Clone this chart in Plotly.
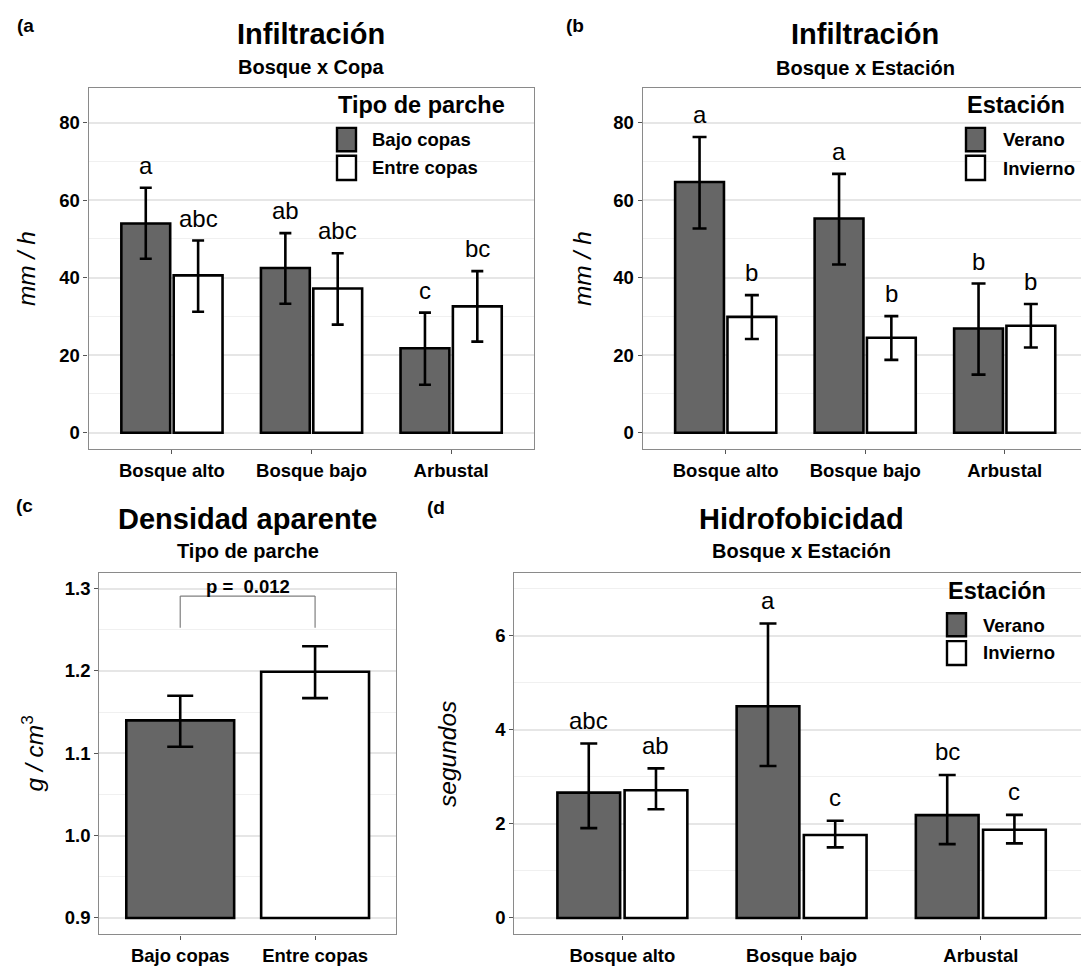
import plotly.graph_objects as go

W, H = 1081, 966
FONT = "Liberation Sans, Arial, sans-serif"
DARK = "#666666"

# ---------------- data ----------------
sites = ["Bosque alto", "Bosque bajo", "Arbustal"]

# (a) Infiltración, Bosque x Copa
a_bajo_mean = [54.0, 42.5, 21.8]
a_bajo_hi = [63.2, 51.5, 31.0]
a_bajo_lo = [44.9, 33.3, 12.4]
a_entre_mean = [40.6, 37.2, 32.6]
a_entre_hi = [49.6, 46.3, 41.7]
a_entre_lo = [31.2, 27.9, 23.5]
a_bajo_letters = ["a", "ab", "c"]
a_entre_letters = ["abc", "abc", "bc"]

# (b) Infiltración, Bosque x Estación
b_ver_mean = [64.7, 55.3, 26.9]
b_ver_hi = [76.3, 66.8, 38.5]
b_ver_lo = [52.7, 43.4, 15.0]
b_inv_mean = [29.9, 24.5, 27.6]
b_inv_hi = [35.5, 30.1, 33.2]
b_inv_lo = [24.2, 18.8, 22.0]
b_ver_letters = ["a", "a", "b"]
b_inv_letters = ["b", "b", "b"]

# (c) Densidad aparente, Tipo de parche
c_cats = ["Bajo copas", "Entre copas"]
c_mean = [1.140, 1.199]
c_hi = [1.170, 1.230]
c_lo = [1.108, 1.167]
c_base = 0.9
c_bracket_lo = 1.2525
c_bracket_hi = 1.291
c_pvalue = "p =\u00a0 0.012"

# (d) Hidrofobicidad, Bosque x Estación
d_ver_mean = [2.665, 4.50, 2.186]
d_ver_hi = [3.71, 6.26, 3.04]
d_ver_lo = [1.91, 3.23, 1.57]
d_inv_mean = [2.714, 1.763, 1.875]
d_inv_hi = [3.18, 2.066, 2.19]
d_inv_lo = [2.31, 1.50, 1.586]
d_ver_letters = ["abc", "a", "bc"]
d_inv_letters = ["ab", "c", "c"]


def X(px):
    return px / W


def Y(py):
    return 1 - py / H


fig = go.Figure()


def add_bar(x, mean, hi, lo, fill, xa, ya, cap, name, width=None, base=None):
    m = list(mean)
    if base is not None:
        y = [v - base for v in m]
    else:
        y = m
    fig.add_trace(go.Bar(
        x=x, y=y, base=base, name=name, width=width,
        xaxis=xa, yaxis=ya, showlegend=False,
        marker=dict(color=fill, line=dict(color="black", width=2.6)),
        error_y=dict(type="data", symmetric=False,
                     array=[h - v for h, v in zip(hi, m)],
                     arrayminus=[v - l for l, v in zip(lo, m)],
                     color="black", thickness=2.6, width=cap),
    ))


add_bar(sites, a_bajo_mean, a_bajo_hi, a_bajo_lo, DARK, "x", "y", 6, "Bajo copas")
add_bar(sites, a_entre_mean, a_entre_hi, a_entre_lo, "white", "x", "y", 6, "Entre copas")
add_bar(sites, b_ver_mean, b_ver_hi, b_ver_lo, DARK, "x2", "y2", 7, "Verano")
add_bar(sites, b_inv_mean, b_inv_hi, b_inv_lo, "white", "x2", "y2", 7, "Invierno")
add_bar(c_cats, c_mean, c_hi, c_lo, [DARK, "white"], "x3", "y3", 13, "Densidad",
        width=0.8, base=c_base)
add_bar(sites, d_ver_mean, d_ver_hi, d_ver_lo, DARK, "x4", "y4", 8.5, "Verano")
add_bar(sites, d_inv_mean, d_inv_hi, d_inv_lo, "white", "x4", "y4", 8.5, "Invierno")

annotations = []
shapes = []

LETTER_SIZE = 24


# significance letters
def letters(labels, hi, off, xr, yr, shift=8.0):
    for i, (t, h) in enumerate(zip(labels, hi)):
        annotations.append(dict(
            x=i + off, y=h, xref=xr, yref=yr, text=t, showarrow=False,
            xanchor="center", yanchor="bottom", yshift=shift, borderpad=0,
            font=dict(family=FONT, size=LETTER_SIZE, color="black")))


OFF = 0.1875
letters(a_bajo_letters, a_bajo_hi, -OFF, "x", "y")
letters(a_entre_letters, a_entre_hi, OFF, "x", "y")
letters(b_ver_letters, b_ver_hi, -OFF, "x2", "y2")
letters(b_inv_letters, b_inv_hi, OFF, "x2", "y2")
letters(d_ver_letters, d_ver_hi, -OFF, "x4", "y4", 8.5)
letters(d_inv_letters, d_inv_hi, OFF, "x4", "y4", 8.5)


def text_at(px, baseline, txt, size, anchor="center", bold=True, italic=False):
    annotations.append(dict(
        x=X(px), y=Y(baseline + 0.212 * size), xref="paper", yref="paper",
        text=txt, showarrow=False, xanchor=anchor, yanchor="bottom", borderpad=0,
        font=dict(family=FONT, size=size, color="black",
                  weight="bold" if bold else "normal",
                  style="italic" if italic else "normal")))


# titles / subtitles
text_at(311.4, 45, "Infiltración", 29)
text_at(311.4, 75, "Bosque x Copa", 20)
text_at(865.0, 45, "Infiltración", 29)
text_at(865.0, 76, "Bosque x Estación", 20)
text_at(247.7, 533, "Densidad aparente", 29)
text_at(247.7, 561.7, "Tipo de parche", 20)
text_at(801.5, 533, "Hidrofobicidad", 29)
text_at(801.5, 561.7, "Bosque x Estación", 20)

# panel tags
text_at(16, 33, "(a", 19, anchor="left")
text_at(565, 33, "(b", 19, anchor="left")
text_at(15, 516, "(c", 19, anchor="left")
text_at(426, 518, "(d", 19, anchor="left")


# y-axis titles (rotated)
def ytitle(px, py, txt):
    annotations.append(dict(
        x=X(px), y=Y(py), xref="paper", yref="paper", text=txt, showarrow=False,
        textangle=-90, xanchor="center", yanchor="middle",
        font=dict(family=FONT, size=24.5, color="black")))


ytitle(26.5, 270, "<i>mm / h</i>")
ytitle(582.5, 270, "<i>mm / h</i>")
ytitle(32.7, 757.7, "<i>g / cm</i><sup>3</sup>")
ytitle(448.2, 757.7, "<i>segundos</i>")


# legends (drawn manually to match key size)
def legend(title, items, x_key, title_base, key_tops, key_bots, text_x, text_bases):
    text_at(x_key, title_base, title, 23.5, anchor="left")
    for (lab, fill), kt, kb, tb in zip(items, key_tops, key_bots, text_bases):
        shapes.append(dict(type="rect", xref="paper", yref="paper",
                           x0=X(x_key), x1=X(x_key + 19), y0=Y(kb), y1=Y(kt),
                           fillcolor=fill, line=dict(color="black", width=2.4)))
        text_at(text_x, tb, lab, 18.5, anchor="left")


legend("Tipo de parche", [("Bajo copas", DARK), ("Entre copas", "white")],
       337, 115, [128.5, 156.5], [152, 181], 371, [147.7, 176])
legend("Estación", [("Verano", DARK), ("Invierno", "white")],
       966, 115, [128.5, 156.5], [152, 181], 1001.5, [148.3, 176.7])
legend("Estación", [("Verano", DARK), ("Invierno", "white")],
       947, 602.7, [616.5, 644.5], [639.5, 668.5], 981.7, [636, 664])

# bracket for (c)
for (x0, y0, x1, y1) in [(0, c_bracket_lo, 0, c_bracket_hi),
                         (0, c_bracket_hi, 1, c_bracket_hi),
                         (1, c_bracket_hi, 1, c_bracket_lo)]:
    shapes.append(dict(type="line", xref="x3", yref="y3", x0=x0, x1=x1, y0=y0, y1=y1,
                       line=dict(color="#7f7f7f", width=1.2)))
annotations.append(dict(x=0.5, y=c_bracket_hi, xref="x3", yref="y3", text=c_pvalue,
                        showarrow=False, xanchor="center", yanchor="bottom", borderpad=0,
                        yshift=-1.5,
                        font=dict(family=FONT, size=18.5, color="black", weight="bold")))

TICKFONT = dict(family=FONT, size=18.5, color="black", weight="bold")
GRID = "#e6e6e6"
MINOR = "#f0f0f0"
BORDER = "#8a8a8a"


def xax(domain, rng, anchor, mirror=True):
    return dict(domain=domain, range=rng, anchor=anchor, type="category",
                showgrid=False, zeroline=False, showline=True, linecolor=BORDER,
                linewidth=1.3, mirror=mirror, ticks="outside", ticklen=4,
                tickcolor="#555555", tickwidth=1.3, tickfont=TICKFONT, fixedrange=True)


def yax(domain, rng, anchor, tick0, dtick, mdtick, mirror=True, fmt=None):
    d = dict(domain=domain, range=rng, anchor=anchor, showgrid=True, gridcolor=GRID,
             gridwidth=1.5, zeroline=False, showline=True, linecolor=BORDER,
             linewidth=1.3, mirror=mirror, ticks="outside", ticklen=4,
             tickcolor="#555555", tickwidth=1.3, tickfont=TICKFONT,
             tickmode="linear", tick0=tick0, dtick=dtick,
             minor=dict(tickmode="linear", tick0=tick0, dtick=mdtick, showgrid=True,
                        gridcolor=MINOR, gridwidth=1, ticks=""),
             fixedrange=True)
    if fmt:
        d["tickformat"] = fmt
    return d


ya_dom = [Y(451.5), Y(88.3)]
yc_dom = [Y(939.3), Y(576)]

fig.update_layout(
    width=W, height=H, margin=dict(l=0, r=0, t=0, b=0),
    paper_bgcolor="white", plot_bgcolor="white",
    barmode="group", bargap=0.25, bargroupgap=0.0667, showlegend=False,
    font=dict(family=FONT, color="black"),
    xaxis=xax([X(88.6), X(534.2)], [-0.597, 2.595], "y"),
    yaxis=yax(ya_dom, [-4.24, 89.0], "x", 0, 20, 10),
    xaxis2=xax([X(642.7), 1.0], [-0.595, 2.547], "y2"),
    yaxis2=yax(ya_dom, [-4.24, 89.0], "x2", 0, 20, 10, mirror=False),
    xaxis3=xax([X(99.3), X(396)], [-0.6, 1.6], "y3"),
    yaxis3=yax(yc_dom, [0.880, 1.319], "x3", 0.9, 0.1, 0.05, fmt=".1f"),
    xaxis4=xax([X(514.3), 1.0], [-0.603, 2.559], "y4"),
    yaxis4=yax(yc_dom, [-0.351, 7.333], "x4", 0, 2, 1, mirror=False),
    annotations=annotations,
    shapes=shapes,
)

fig.write_html("out.html")
